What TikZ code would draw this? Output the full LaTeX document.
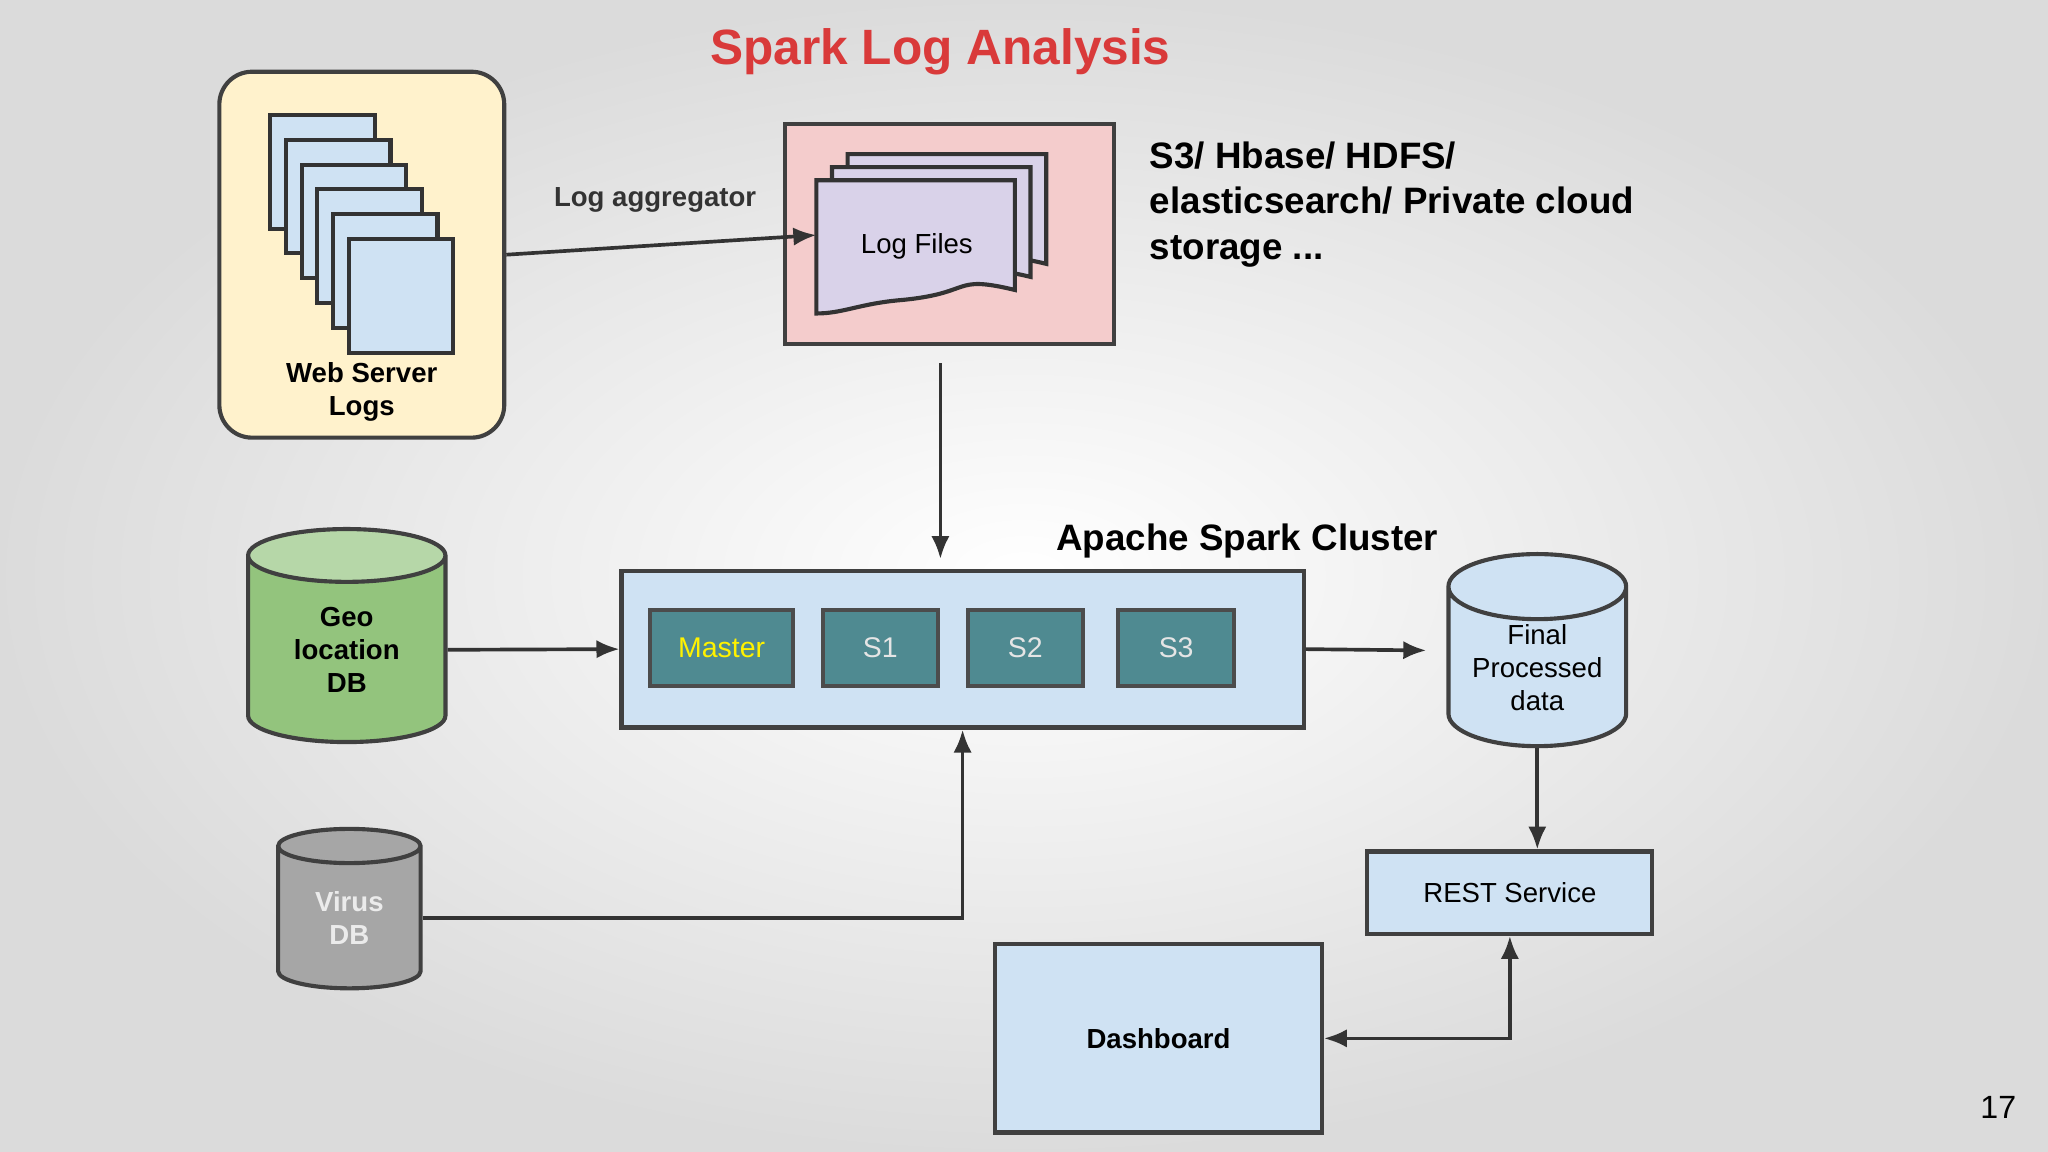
\documentclass[tikz,border=0pt]{standalone}
\usepackage{fontspec}
\setmainfont{Liberation Sans}
\usetikzlibrary{arrows.meta,positioning,shapes.geometric}
\definecolor{webfill}{HTML}{FFF2CC}
\definecolor{storefill}{HTML}{F4CCCC}
\definecolor{pagefill}{HTML}{CFE2F3}
\definecolor{docfill}{HTML}{D9D2E9}
\definecolor{nodefill}{HTML}{4F8A91}
\definecolor{geobody}{HTML}{93C47D}
\definecolor{geotop}{HTML}{B6D7A8}
\definecolor{titlered}{HTML}{D93A3A}
\tikzset{
  box/.style={draw=black!75, line width=0.9pt, fill=pagefill, inner sep=0pt},
  worker/.style={draw=black!70, line width=0.9pt, fill=nodefill, text=white!90!black, inner sep=0pt, minimum height=0.58cm, minimum width=0.88cm, font=\fontsize{6.2}{7}\selectfont},
  db/.style={cylinder, shape border rotate=90, aspect=0.5, draw=black!75, line width=0.9pt, cylinder uses custom fill, inner sep=0pt, align=center},
  arr/.style={-{Latex[length=5pt,width=4pt]}, line width=0.8pt, black!80},
  lbl/.style={font=\bfseries\fontsize{6}{7.2}\selectfont, align=center}
}
\begin{document}
\begin{tikzpicture}[x=0.01cm, y=-0.01cm]
  \shade[inner color=white, outer color=gray!28] (0,0) rectangle (1568,882);
  \useasboundingbox (0,0) rectangle (1568,882);

  % Title
  \node[text=titlered, font=\bfseries\fontsize{10.8}{12}\selectfont] (title) at (720,40) {Spark Log Analysis};

  % Web server logs
  \node[box, fill=webfill, rounded corners=0.25cm, minimum width=2.18cm, minimum height=2.8cm] (web) at (277,195) {};
  \foreach \i in {0,...,5}
    \draw[black!80, line width=0.9pt, fill=pagefill] (207+12*\i,88+19*\i) rectangle ++(80,87);
  \node[lbl] (weblbl) at (277,300) {Web Server\\Logs};

  % Storage
  \node[box, fill=storefill, minimum width=2.52cm, minimum height=1.68cm] (store) at (727,179) {};
  \foreach \i in {2,1,0}
    \draw[black!80, line width=0.9pt, fill=docfill] (625+12*\i,138-10*\i) -- ++(152,0) -- ++(0,84)
      .. controls ++(-50,-12) and ++(60,-5) .. ++(-90,8) .. controls ++(-30,3) and ++(20,0) .. ++(-62,10) -- cycle;
  \node[font=\fontsize{6}{7}\selectfont, minimum width=1.52cm] (logs) at (702,189) {Log Files};
  \node[font=\bfseries\fontsize{8}{9.9}\selectfont, align=left, anchor=north west] (stores) at (868,96)
    {S3/ Hbase/ HDFS/\\elasticsearch/ Private cloud\\storage ...};

  \coordinate (logsin) at (625,180);
  \draw[arr] (web.east) -- node[above, pos=0.48, yshift=0.12cm, font=\bfseries\fontsize{6}{7}\selectfont] {Log aggregator} (logsin);

  % Spark cluster
  \node[box, minimum width=5.22cm, minimum height=1.2cm] (cluster) at (737,497) {};
  \node[font=\bfseries\fontsize{8}{9}\selectfont] (clusterlbl) at (955,414) {Apache Spark Cluster};
  \node[worker, minimum width=1.09cm, text=yellow] (master) at (552.5,496) {Master};
  \node[worker] (s1) at (674,496) {S1};
  \node[worker] (s2) at (785,496) {S2};
  \node[worker, minimum width=0.89cm] (s3) at (900.5,496) {S3};

  \coordinate (storeout) at (720,278);
  \coordinate (clusterin) at (720,428);
  \draw[arr] (storeout) -- (clusterin);

  % Databases
  \node[db, cylinder body fill=geobody, cylinder end fill=geotop, minimum width=1.51cm, minimum height=1.63cm, font=\bfseries\fontsize{6}{7.2}\selectfont] (geo) at (265.5,497.5) {Geo\\location\\DB};
  \node[db, cylinder body fill=gray!70, cylinder end fill=gray!70, minimum width=1.09cm, minimum height=1.22cm, text=white!92!black, font=\bfseries\fontsize{6}{7.2}\selectfont] (virus) at (267.5,703) {Virus\\DB};
  \node[db, cylinder body fill=pagefill, cylinder end fill=pagefill, minimum width=1.36cm, minimum height=1.47cm, font=\fontsize{6}{7.2}\selectfont] (final) at (1177,511) {Final\\Processed\\data};

  \draw[arr] (geo.east) -- (cluster.west);
  \draw[arr] (virus.east) -| (cluster.south);
  \coordinate (finalin) at (1092,498);
  \draw[arr] (cluster.east) -- (finalin);

  % Serving
  \node[box, minimum width=2.18cm, minimum height=0.63cm, font=\fontsize{6}{7}\selectfont] (rest) at (1156,683.5) {REST Service};
  \node[box, minimum width=2.5cm, minimum height=1.44cm, font=\bfseries\fontsize{6}{7}\selectfont] (dash) at (887,795) {Dashboard};
  \draw[arr] (final.south) -- (final.south |- rest.north);
  \draw[arr, {Latex[length=5pt,width=4pt]}-{Latex[length=5pt,width=4pt]}] (dash.east) -| (rest.south);

  \node[font=\fontsize{7}{8}\selectfont] (page) at (1530,848) {17};
\end{tikzpicture}
\end{document}
